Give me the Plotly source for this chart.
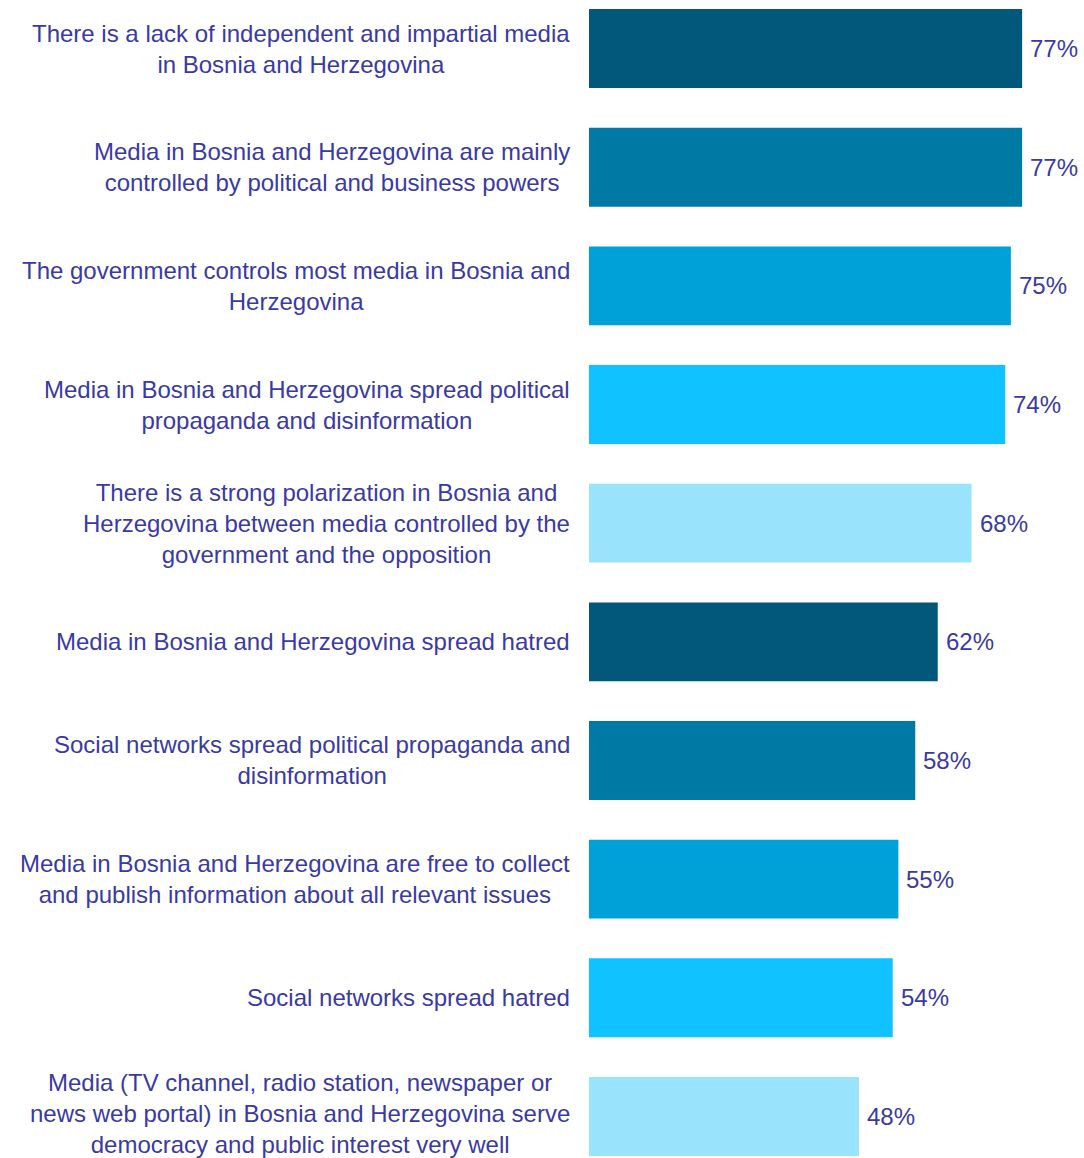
import plotly.graph_objects as go

statements = [
    "There is a lack of independent and impartial media<br>in Bosnia and Herzegovina",
    "Media in Bosnia and Herzegovina are mainly<br>controlled by political and business powers",
    "The government controls most media in Bosnia and<br>Herzegovina",
    "Media in Bosnia and Herzegovina spread political<br>propaganda and disinformation",
    "There is a strong polarization in Bosnia and<br>Herzegovina between media controlled by the<br>government and the opposition",
    "Media in Bosnia and Herzegovina spread hatred",
    "Social networks spread political propaganda and<br>disinformation",
    "Media in Bosnia and Herzegovina are free to collect<br>and publish information about all relevant issues",
    "Social networks spread hatred",
    "Media (TV channel, radio station, newspaper or<br>news web portal) in Bosnia and Herzegovina serve<br>democracy and public interest very well",
]
agree_pct = [77, 77, 75, 74, 68, 62, 58, 55, 54, 48]

palette = ["#01587A", "#0079A4", "#00A0D8", "#10C2FF", "#99E3FD"]
bar_colors = [palette[i % len(palette)] for i in range(len(statements))]

TEXT_COLOR = "#3A3AA0"
FONT = "Liberation Sans"

positions = list(range(len(statements)))

fig = go.Figure(
    go.Bar(
        x=agree_pct,
        y=positions,
        orientation="h",
        width=0.665,
        marker=dict(color=bar_colors, line=dict(width=0)),
        hoverinfo="skip",
    )
)

# Statement labels: block right-aligned to the bars, lines centred within it
last = len(statements) - 1
for pos, label in zip(positions, statements):
    fig.add_annotation(
        x=0, xref="paper", y=pos, yref="y",
        text=label, showarrow=False,
        xanchor="right", yanchor="middle", align="center",
        xshift=-17,
        yshift=3 if pos == last else 0,  # keep the bottom line inside the page
        font=dict(family=FONT, size=24, color=TEXT_COLOR),
    )

# Percentage labels just past the end of each bar
for pos, val in zip(positions, agree_pct):
    fig.add_annotation(
        x=val, xref="x", y=pos, yref="y",
        text=f"{val}%", showarrow=False,
        xanchor="left", yanchor="middle",
        xshift=6,
        font=dict(family=FONT, size=24, color=TEXT_COLOR),
    )

fig.update_layout(
    width=1084, height=1158,
    margin=dict(l=589, r=0, t=0, b=0),
    paper_bgcolor="white", plot_bgcolor="white",
    showlegend=False,
    xaxis=dict(range=[0, 88], visible=False, fixedrange=True),
    yaxis=dict(range=[9.35, -0.409], visible=False, fixedrange=True),
)

fig.write_html("out.html")
